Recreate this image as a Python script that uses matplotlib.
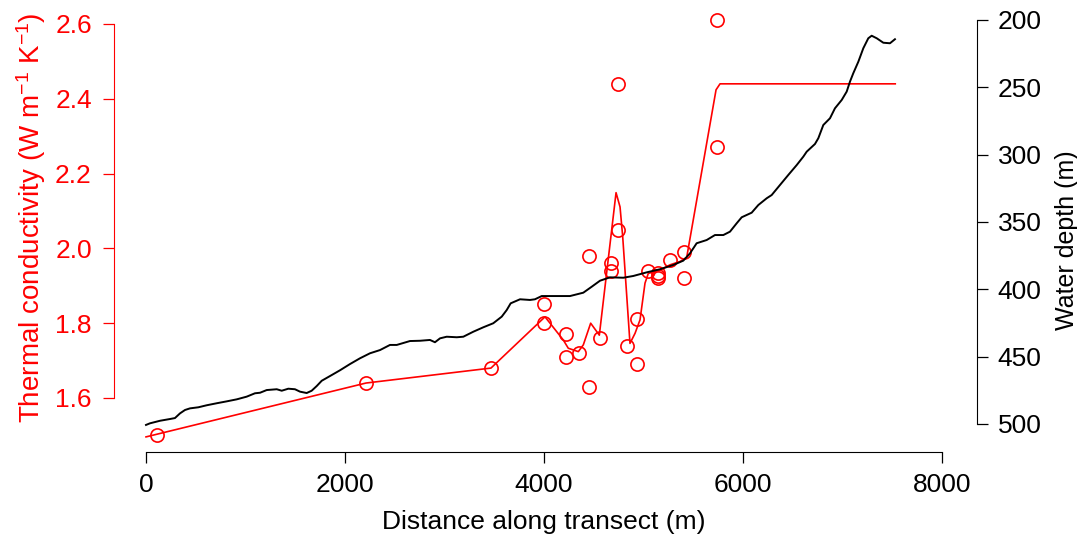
import numpy as np
import matplotlib
matplotlib.use("Agg")
import matplotlib.pyplot as plt

plt.rcParams['font.family'] = ['Liberation Sans', 'DejaVu Sans']
plt.rcParams['mathtext.fontset'] = 'custom'
plt.rcParams['mathtext.rm'] = 'Liberation Sans'
plt.rcParams['mathtext.it'] = 'Liberation Sans:italic'

# measured thermal conductivity samples (distance m, W/m/K)
k_dist = [110, 2211, 3467, 4000, 4000, 4218, 4218, 4349, 4455, 4455, 4563,
          4670, 4670, 4741, 4744, 4831, 4931, 4931, 5042, 5143, 5143, 5143,
          5266, 5407, 5407, 5735, 5735]
k_vals = [1.50, 1.64, 1.68, 1.85, 1.80, 1.77, 1.71, 1.72, 1.98, 1.63, 1.76,
          1.96, 1.94, 2.05, 2.44, 1.74, 1.81, 1.69, 1.94, 1.935, 1.925, 1.92,
          1.97, 1.99, 1.92, 2.61, 2.27]

# conductivity model along transect
model_dist = [0, 2211, 3467, 4010, 4194, 4244, 4345, 4395, 4469, 4556, 4724,
              4764, 4791, 4864, 4915, 4965, 5015, 5048, 5166, 5266, 5367, 5434,
              5729, 5769, 7530]
model_k = [1.496, 1.64, 1.68, 1.817, 1.755, 1.733, 1.724, 1.742, 1.80, 1.768,
           2.149, 2.111, 2.031, 1.746, 1.773, 1.809, 1.907, 1.933, 1.942, 1.956,
           1.965, 1.976, 2.424, 2.44, 2.44]

# bathymetry
depth_dist = [0, 40, 141, 241, 291, 342, 392, 442, 526, 610, 711, 811, 912,
              1012, 1095, 1146, 1213, 1314, 1364, 1430, 1497, 1548, 1615, 1665,
              1716, 1766, 1849, 1950, 2050, 2151, 2251, 2352, 2452, 2520, 2653,
              2754, 2854, 2904, 2955, 3022, 3123, 3189, 3289, 3390, 3490, 3575,
              3625, 3665, 3759, 3859, 3909, 3977, 4093, 4261, 4395, 4479, 4563,
              4663, 4797, 4897, 5032, 5166, 5300, 5400, 5467, 5534, 5635, 5718,
              5802, 5869, 5936, 5987, 6087, 6154, 6238, 6288, 6372, 6455, 6540,
              6606, 6640, 6723, 6757, 6807, 6874, 6924, 6992, 7042, 7075, 7108,
              7159, 7209, 7259, 7293, 7344, 7410, 7477, 7527]
depth = [500.7, 499.5, 497.6, 496.3, 495.6, 492.1, 489.6, 488.4, 487.6, 486.1,
         484.6, 483.2, 481.7, 479.7, 477.2, 476.8, 474.8, 474.2, 475.3, 473.8,
         474.2, 476.0, 477.0, 475.3, 471.8, 467.9, 464.4, 460.1, 455.5, 451.2,
         447.5, 445.1, 441.3, 441.3, 438.4, 438.2, 437.6, 439.3, 436.4, 435.2,
         435.6, 435.2, 431.5, 428.2, 425.2, 420.3, 415.4, 410.4, 407.4, 407.9,
         407.4, 405.0, 405.0, 405.0, 402.5, 398.1, 393.6, 391.1, 391.4, 390.1,
         387.4, 385.1, 381.9, 378.7, 373.3, 365.8, 363.4, 359.7, 359.7, 357.2,
         351.0, 346.5, 343.1, 337.4, 332.4, 330.0, 322.5, 315.1, 307.7, 301.5,
         297.8, 292.1, 287.8, 278.0, 273.0, 265.6, 259.4, 253.2, 245.8, 239.6,
         231.0, 221.0, 213.6, 211.7, 213.6, 216.9, 217.3, 214.3]

k_ticks = [1.6, 1.8, 2.0, 2.2, 2.4, 2.6]
depth_ticks = [200, 250, 300, 350, 400, 450, 500]
x_ticks = [0, 2000, 4000, 6000, 8000]

fig = plt.figure(figsize=(10.77, 5.40), dpi=100)
ax = fig.add_axes([0.10585, 0.16296, 0.80130, 0.81852])
ax2 = ax.twinx()

ax.plot(model_dist, model_k, color='red', lw=1.2, zorder=3)
ax.plot(k_dist, k_vals, 'o', mfc='none', mec='red', ms=9.5, mew=1.2, zorder=4)
ax2.plot(depth_dist, depth, color='black', lw=1.4)

ax.set_xlim(-321.6, 8351.6)
ax.set_ylim(1.4556, 2.6374)
ax2.set_ylim(520.8, 192.6)

ax.set_xticks(x_ticks)
ax.set_xticklabels([str(t) for t in x_ticks])
ax.set_yticks(k_ticks)
ax.set_yticklabels(['%.1f' % t for t in k_ticks])
ax2.set_yticks(depth_ticks)
ax2.set_yticklabels([str(t) for t in depth_ticks])

for a in (ax, ax2):
    a.spines['top'].set_visible(False)
ax.spines['right'].set_visible(False)
ax2.spines['left'].set_visible(False)
ax2.spines['bottom'].set_visible(False)
ax.spines['left'].set_bounds(1.6, 2.6)
ax.spines['left'].set_color('red')
ax.spines['bottom'].set_bounds(0, 8000)
ax2.spines['right'].set_bounds(200, 500)

ax.tick_params(axis='y', colors='red', labelcolor='red', length=8, width=0.9,
               labelsize=19, pad=8)
ax.tick_params(axis='x', length=8, width=0.9, labelsize=19, pad=7)
ax2.tick_params(axis='y', length=8, width=0.9, labelsize=19, pad=7)

ax.set_xlabel('Distance along transect (m)', fontsize=19)
ax.xaxis.set_label_coords(0.498, -0.132)
ax.set_ylabel('Thermal conductivity (W m$^{-1}$ K$^{-1}$)', fontsize=20,
              color='red')
ax.yaxis.set_label_coords(-0.077, 0.53)
ax2.set_ylabel('Water depth (m)', fontsize=18)
ax2.yaxis.set_label_coords(1.090, 0.48)

fig.savefig('out.png', dpi=100)
